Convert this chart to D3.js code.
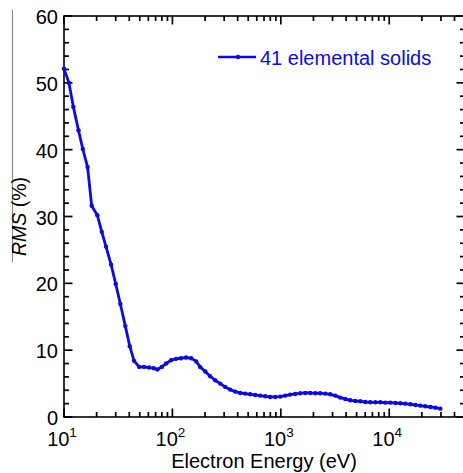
<!DOCTYPE html>
<html>
<head>
<meta charset="utf-8">
<script src="https://cdn.jsdelivr.net/npm/d3@7"></script>
<style>
  body { margin: 0; background: #fff; }
  svg { display: block; font-family: "Liberation Sans", Arial, sans-serif; }
</style>
</head>
<body>
<svg id="chart" width="463" height="473"></svg>
<script>
// electron energy (eV)
const energy = [10, 11.1, 12.2, 13.6, 14.9, 16.5, 18.0, 20.3, 22.3, 24.4,
  27.2, 30.0, 33.1, 36.8, 40.4, 44.3, 49.3, 54.8, 60.9, 67.3,
  72.7, 79.8, 87.5, 97.3, 108, 120, 134, 149, 166, 180,
  201, 223, 248, 276, 307, 341, 379, 422, 469, 522,
  580, 645, 718, 798, 888, 987, 1098, 1221, 1358, 1511,
  1680, 1868, 2078, 2311, 2570, 2858, 3179, 3536, 3932, 4373,
  4864, 5409, 6016, 6691, 7442, 8277, 9205, 10240, 11390, 12660,
  14090, 15670, 17420, 19380, 21540, 23960, 26650, 29640];
// RMS deviation (%)
const rms = [52.1, 50.0, 46.4, 42.9, 40.1, 37.4, 31.6, 30.2, 27.7, 25.5,
  22.8, 19.9, 16.9, 13.6, 10.6, 8.4, 7.5, 7.5, 7.4, 7.3,
  7.1, 7.5, 8.0, 8.5, 8.7, 8.8, 8.9, 8.8, 8.3, 7.5,
  6.8, 6.1, 5.5, 5.0, 4.5, 4.1, 3.8, 3.6, 3.5, 3.4,
  3.3, 3.2, 3.1, 3.0, 3.0, 3.05, 3.2, 3.35, 3.45, 3.55,
  3.6, 3.6, 3.55, 3.55, 3.5, 3.4, 3.2, 2.9, 2.7, 2.5,
  2.4, 2.35, 2.25, 2.2, 2.2, 2.2, 2.15, 2.15, 2.1, 2.05,
  2.0, 1.9, 1.8, 1.7, 1.6, 1.5, 1.4, 1.25];
const seriesName = "41 elemental solids";
const xMajor = [10, 100, 1000, 10000];
const yMajor = [0, 10, 20, 30, 40, 50, 60];

const data = energy.map((e, i) => ({e: e, v: rms[i]}));

const margin = {left: 64, top: 16, right: -2, bottom: 56};
const W = 463, H = 473;
const width = W - margin.left - margin.right;
const height = H - margin.top - margin.bottom;
const blue = "#0a0ae8";

const svg = d3.select("#chart");

// leftover border from the original figure
svg.append("line")
    .attr("x1", 12.5).attr("x2", 12.5).attr("y1", 10).attr("y2", 262)
    .attr("stroke", "#8a8a8a").attr("stroke-width", 1.2);

const g = svg.append("g")
    .attr("transform", "translate(" + margin.left + "," + margin.top + ")");

const x = d3.scaleLog().domain([10, 50000]).range([0, width]);
const y = d3.scaleLinear().domain([0, 60]).range([height, 0]);

// minor ticks
const xMinor = [];
for (let d = 10; d < 50000; d *= 10)
    for (let k = 2; k <= 9; k++) if (d * k <= 50000) xMinor.push(d * k);
const yMinor = d3.range(0, 61, 2).filter(v => v % 10 !== 0);

// frame
g.append("rect")
    .attr("width", width).attr("height", height)
    .attr("fill", "none").attr("stroke", "#000").attr("stroke-width", 1.6);

// inward ticks on all four sides
const ticks = g.append("g")
    .attr("stroke", "#000").attr("stroke-width", 1.7);

const xTicks = xMinor.map(v => ({v: v, len: 5})).concat(xMajor.map(v => ({v: v, len: 8.5})));
const yTicks = yMinor.map(v => ({v: v, len: 5})).concat(yMajor.map(v => ({v: v, len: 8.5})));

ticks.selectAll(".xb").data(xTicks).enter().append("line")
    .attr("x1", d => x(d.v)).attr("x2", d => x(d.v))
    .attr("y1", height).attr("y2", d => height - d.len);
ticks.selectAll(".xt").data(xTicks).enter().append("line")
    .attr("x1", d => x(d.v)).attr("x2", d => x(d.v))
    .attr("y1", 0).attr("y2", d => d.len);
ticks.selectAll(".yl").data(yTicks).enter().append("line")
    .attr("y1", d => y(d.v)).attr("y2", d => y(d.v))
    .attr("x1", 0).attr("x2", d => d.len);
ticks.selectAll(".yr").data(yTicks).enter().append("line")
    .attr("y1", d => y(d.v)).attr("y2", d => y(d.v))
    .attr("x1", width).attr("x2", d => width - d.len);

// tick labels
g.selectAll(".xlab").data(xMajor).enter().append("text")
    .attr("class", "xlab")
    .attr("x", d => x(d) - 2).attr("y", height + 29)
    .attr("text-anchor", "middle")
    .style("font-size", "20px")
    .each(function(d) {
        const t = d3.select(this);
        t.append("tspan").text("10");
        t.append("tspan").attr("dy", -9).style("font-size", "13.5px")
            .text(Math.round(Math.log10(d)));
    });

g.selectAll(".ylab").data(yMajor).enter().append("text")
    .attr("class", "ylab")
    .attr("x", -6).attr("y", d => y(d)).attr("dy", "0.4em")
    .attr("text-anchor", "end")
    .style("font-size", "20px")
    .text(d => d);

// series
const line = d3.line().x(d => x(d.e)).y(d => y(d.v));
g.append("path")
    .datum(data)
    .attr("d", line)
    .attr("fill", "none")
    .attr("stroke", blue)
    .attr("stroke-width", 2.8)
    .attr("stroke-linejoin", "round");
g.selectAll(".dot")
    .data(data)
    .enter().append("circle")
    .attr("class", "dot")
    .attr("cx", d => x(d.e))
    .attr("cy", d => y(d.v))
    .attr("r", 2.2)
    .attr("fill", blue);

// legend
const leg = svg.append("g").attr("transform", "translate(218,57)");
leg.append("line").attr("x1", 0).attr("x2", 38).attr("y1", 0).attr("y2", 0)
    .attr("stroke", blue).attr("stroke-width", 2.4);
leg.append("circle").attr("cx", 20).attr("cy", 0).attr("r", 2.2).attr("fill", blue);
leg.append("text").attr("x", 42).attr("y", 7.5)
    .attr("fill", blue).style("font-size", "20px")
    .text(seriesName);

// axis labels
svg.append("text")
    .attr("x", 264).attr("y", 468)
    .attr("text-anchor", "middle")
    .style("font-size", "20px")
    .text("Electron Energy (eV)");

const ylab = svg.append("text")
    .attr("transform", "translate(26," + (margin.top + height / 2) + ") rotate(-90)")
    .attr("text-anchor", "middle")
    .style("font-size", "19.5px");
ylab.append("tspan").style("font-style", "italic").text("RMS");
ylab.append("tspan").text(" (%)");
</script>
</body>
</html>
